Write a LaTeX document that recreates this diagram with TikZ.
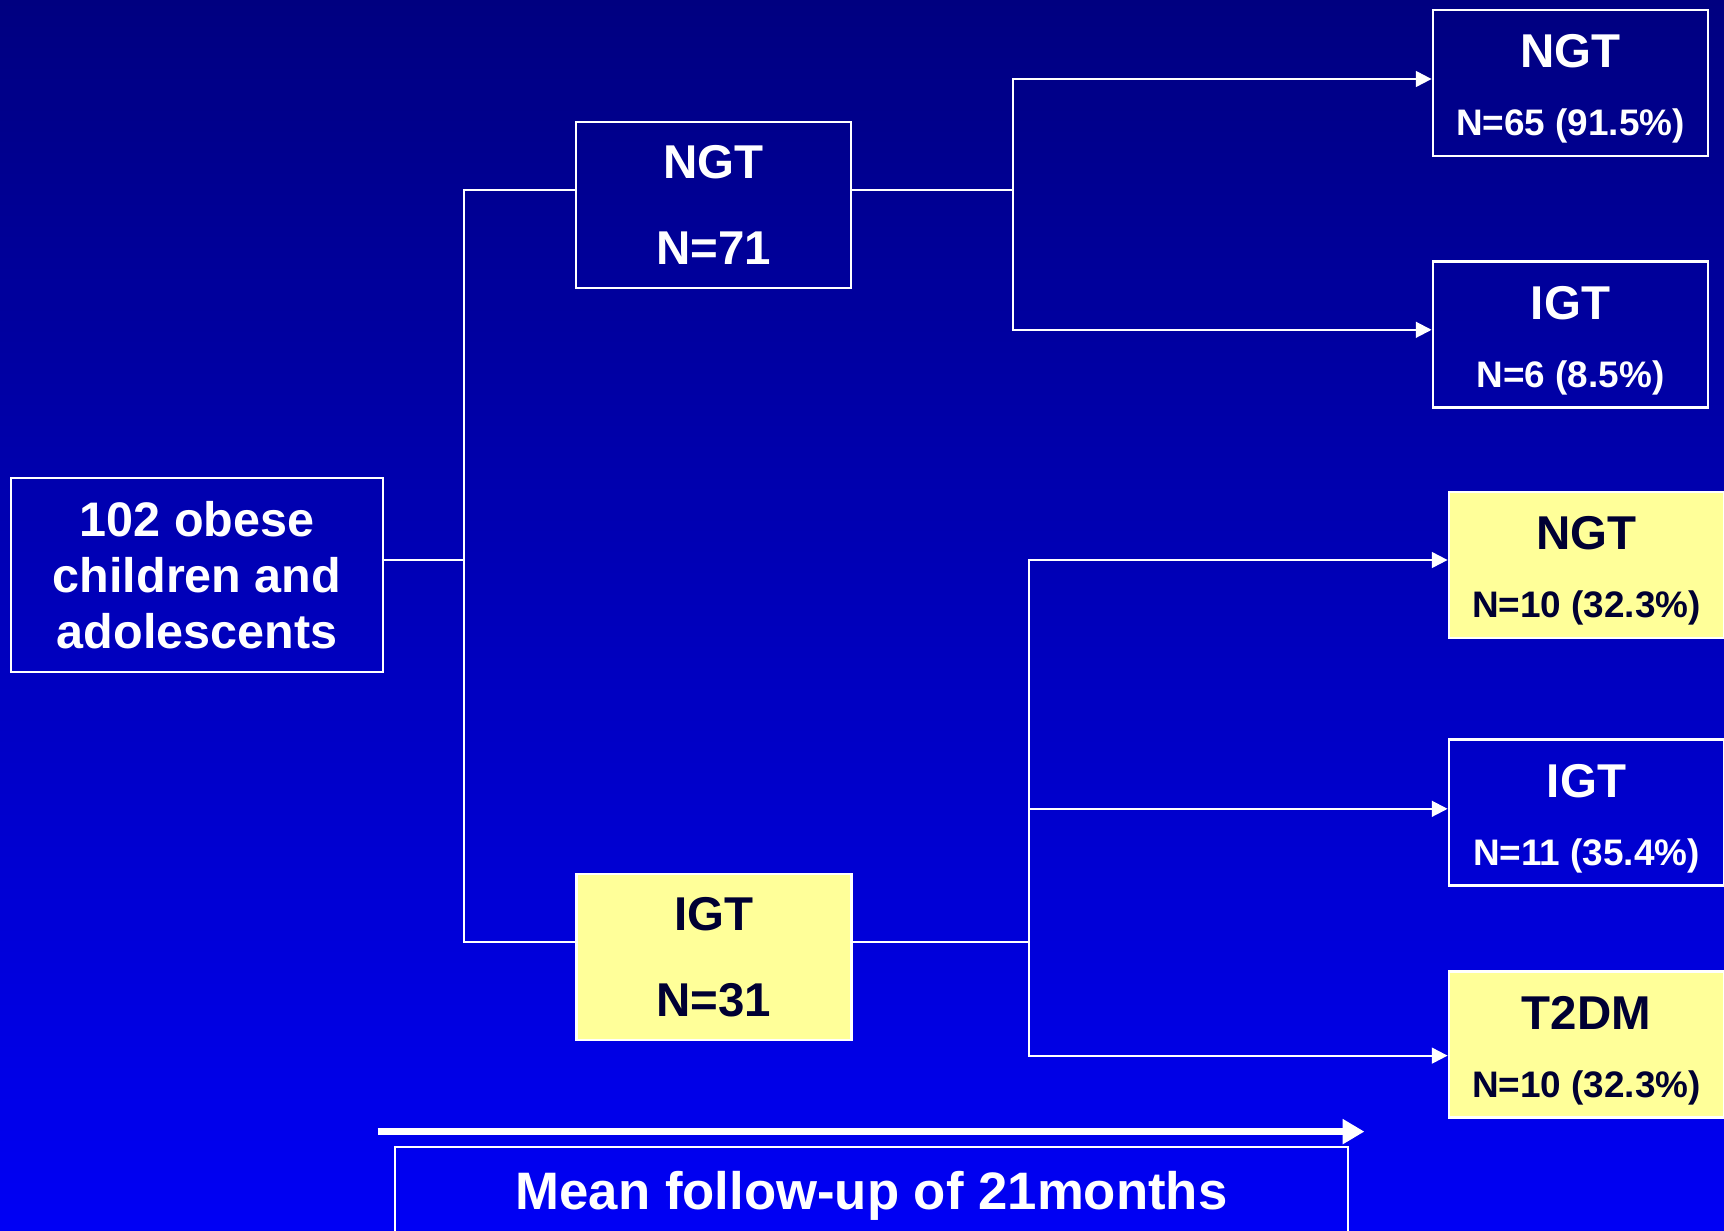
\documentclass[tikz,border=0pt]{standalone}
\usepackage{fontspec}
\setmainfont{Liberation Sans}
\usetikzlibrary{positioning,arrows.meta,calc}

\definecolor{bgtop}{RGB}{0,0,128}
\definecolor{bgbottom}{RGB}{0,0,245}
\definecolor{paleyellow}{RGB}{255,255,153}
\definecolor{darknavy}{RGB}{0,0,51}

% outcome text: group name, then the smaller count line
\newcommand{\outcometext}[2]{\rule{0pt}{12.9pt}#1\\{\fontsize{10.5}{12}\selectfont #2}}

\tikzset{
    % Cohort box - white outline on the blue background
    cohort/.style={
        rectangle,
        draw=white,
        line width=0.8pt,
        text=white,
        align=center,
        minimum width=3.72cm,
        minimum height=1.94cm,
        font=\bfseries\fontsize{13.8}{16}\selectfont
    },
    % Baseline group box
    stage/.style={
        rectangle,
        draw=white,
        line width=0.8pt,
        text=white,
        align=center,
        minimum width=2.75cm,
        minimum height=1.66cm,
        font=\bfseries\fontsize{13.5}{24.4}\selectfont
    },
    % Highlighted group - yellow fill
    stagehl/.style={
        stage,
        fill=paleyellow,
        text=darknavy
    },
    % Outcome box - right column
    outcome/.style={
        rectangle,
        draw=white,
        line width=0.8pt,
        text=white,
        align=center,
        minimum width=2.75cm,
        minimum height=1.46cm,
        font=\bfseries\fontsize{13.5}{19.3}\selectfont
    },
    % Highlighted outcome - yellow fill
    outcomehl/.style={
        outcome,
        fill=paleyellow,
        text=darknavy
    },
    % Plain connector
    link/.style={
        draw=white,
        line width=0.6pt
    },
    % Connector with a tip
    arrow/.style={
        link,
        -{Triangle[length=4.5pt,width=4.5pt]}
    },
    % Thick time arrow
    timeline/.style={
        draw=white,
        line width=2.2pt,
        -{Triangle[length=6.2pt,width=6.8pt]}
    }
}

\begin{document}
\begin{tikzpicture}

    % ========== BACKGROUND ==========
    \useasboundingbox (0,0) rectangle (17.24,-12.30);
    \shade[top color=bgtop, bottom color=bgbottom] (0,0) rectangle (17.24,-12.30);

    % ========== COHORT ==========
    \node[cohort] (root) at (1.97,-5.75) {102 obese\\children and\\adolescents};

    % ========== BASELINE GROUPS ==========
    \node[stage] (ngtA) at (7.135,-2.05) {NGT\\N=71};
    \node[stagehl] (igtA) at (7.14,-9.57) {IGT\\N=31};

    % ========== OUTCOMES OF NGT ==========
    \node[outcome] (ngtB) at (15.705,-0.83) {\outcometext{NGT}{N=65 (91.5\%)}};
    \node[outcome, below=1.03cm of ngtB] (igtB) {\outcometext{IGT}{N=6 (8.5\%)}};

    % ========== OUTCOMES OF IGT ==========
    \node[outcomehl] (ngtC) at (15.865,-5.65) {\outcometext{NGT}{N=10 (32.3\%)}};
    \node[outcome, below=0.99cm of ngtC] (igtC) {\outcometext{IGT}{N=11 (35.4\%)}};
    \node[outcomehl, below=0.83cm of igtC] (t2dm) {\outcometext{T2DM}{N=10 (32.3\%)}};

    % ========== FOLLOW-UP ==========
    \node[draw=white, line width=0.8pt, text=white, minimum width=9.53cm, minimum height=1.16cm,
          text height=0.38cm, text depth=0.3cm, font=\bfseries\fontsize{15}{18}\selectfont]
          (follow) at (8.715,-12.05) {Mean follow-up of 21months};

    % ========== CONNECTIONS ==========

    % Split of the cohort
    \draw[link] ([yshift=1.5mm]root.east) -- ++(0.8,0) coordinate (trunk);
    \draw[link] ([yshift=1.5mm]ngtA.west) -| (trunk) |- ([yshift=1.5mm]igtA.west);

    % NGT branch
    \draw[link] ([yshift=1.5mm]ngtA.east) -- ++(1.61,0) coordinate (forkA);
    \draw[arrow] (forkA) |- ([yshift=0.4mm]ngtB.west);
    \draw[arrow] (forkA) |- ([yshift=0.5mm]igtB.west);

    % IGT branch
    \draw[link] ([yshift=1.5mm]igtA.east) -- ++(1.76,0) coordinate (forkB);
    \draw[arrow] (forkB) |- ([yshift=0.5mm]ngtC.west);
    \draw[arrow] (forkB) |- ([yshift=0.4mm]igtC.west);
    \draw[arrow] (forkB) |- ([yshift=-1.1mm]t2dm.west);

    % Time arrow
    \draw[timeline] ([xshift=-1.6mm,yshift=1.4mm]follow.north west) -- ([xshift=1.5mm,yshift=1.4mm]follow.north east);

\end{tikzpicture}
\end{document}
